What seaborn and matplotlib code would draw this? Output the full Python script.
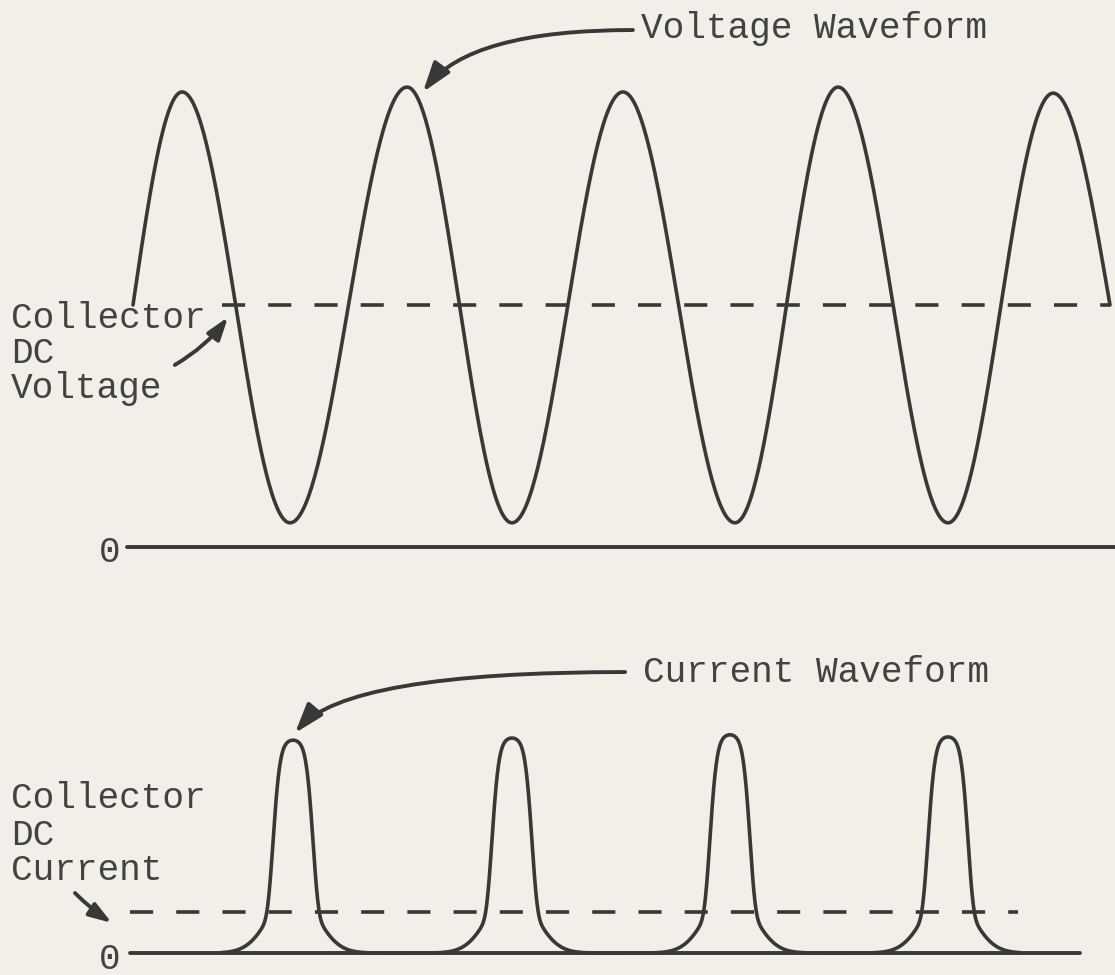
import numpy as np
import pandas as pd
import seaborn as sns
import matplotlib.pyplot as plt

# time is in drive cycles, voltage in units of the collector DC voltage,
# current in units of the pulse peak
v_t = [0.014, 0.239, 0.734, 1.271, 1.752, 2.261, 2.775, 3.248, 3.752, 4.234, 4.495]
v_val = [1.0, 1.88, 0.10, 1.90, 0.10, 1.88, 0.10, 1.90, 0.10, 1.875, 1.0]
v_dc = 1.0
v_dc_span = [0.422, 4.495]
v_zero_span = [-0.014, 4.60]

i_peak_t = [0.748, 1.752, 2.752, 3.752]
i_peak = [0.99, 1.0, 1.015, 1.005]
i_dc = 0.19
i_dc_span = [0.0, 4.073]
i_zero_span = [0.0, 4.358]

bg = '#f1efe8'
ink = '#383838'
txt = '#424242'
font = 'Liberation Mono'

sns.set_theme(style='white')
plt.rcParams['font.family'] = [font, 'DejaVu Sans']


def extremes_curve(ts, vs, n=120):
    # smooth stroke through the peaks/troughs
    xs, ys = [], []
    last = len(ts) - 2
    for k in range(len(ts) - 1):
        s = np.linspace(0, 1, n)
        if k == 0:
            w = np.sin(np.pi / 2 * s)
        elif k == last:
            w = 1 - np.cos(np.pi / 2 * s)
        else:
            w = (1 - np.cos(np.pi * s)) / 2
        xs.append(ts[k] + (ts[k + 1] - ts[k]) * s)
        ys.append(vs[k] + (vs[k + 1] - vs[k]) * w)
    return np.concatenate(xs), np.concatenate(ys)


def pulse(d):
    # steep sided pulse with a flared foot
    d = np.abs(d)
    return 0.7 * np.exp(-(d / 0.0966) ** 4.8) + 0.3 * np.exp(-(d / 0.1468) ** 2)


vx, vy = extremes_curve(v_t, v_val)
volt = pd.DataFrame({'t': vx, 'v': vy})

it = np.linspace(i_peak_t[0] - 0.33, i_peak_t[-1] + 0.33, 2000)
iy = np.zeros_like(it)
for tp, h in zip(i_peak_t, i_peak):
    iy += h * pulse(it - tp)
cur = pd.DataFrame({'t': it, 'i': iy})

fig = plt.figure(figsize=(11.15, 9.75), dpi=100, facecolor=bg)
ax_v = fig.add_axes([0, 1 - 620 / 975, 1, 620 / 975])
ax_i = fig.add_axes([0, 0, 1, 355 / 975])

for ax in (ax_v, ax_i):
    ax.set_facecolor(bg)
    ax.set_xlim(-0.596, 4.518)
    ax.axis('off')
ax_v.set_ylim(-0.3017, 2.260)
ax_i.set_ylim(-0.1023, 1.549)

lw = 2.6
dash = (0, (6.4, 6.4))

# voltage panel
sns.lineplot(data=volt, x='t', y='v', ax=ax_v, color=ink, lw=lw, sort=False, estimator=None)
ax_v.plot(v_dc_span, [v_dc, v_dc], color=ink, lw=lw, ls=dash)
ax_v.plot(v_zero_span, [0, 0], color=ink, lw=2.8)

# current panel
ax_i.plot(i_zero_span, [0, 0], color=ink, lw=2.8)
sns.lineplot(data=cur, x='t', y='i', ax=ax_i, color=ink, lw=lw, sort=False, estimator=None)
ax_i.plot(i_dc_span, [i_dc, i_dc], color=ink, lw=lw, ls=dash)

tkw = dict(fontsize=26, color=txt, family=[font, 'DejaVu Sans'], va='baseline')

ax_v.text(2.344, 2.103, 'Voltage Waveform', ha='left', **tkw)
for s, y in zip(['Collector', 'DC', 'Voltage'], [0.905, 0.760, 0.616]):
    ax_v.text(-0.546, y, s, ha='left', **tkw)
ax_v.text(-0.092, -0.062, '0', ha='center', **tkw)

ax_i.text(2.353, 1.260, 'Current Waveform', ha='left', **tkw)
for s, y in zip(['Collector', 'DC', 'Current'], [0.674, 0.502, 0.340]):
    ax_i.text(-0.546, y, s, ha='left', **tkw)
ax_i.text(-0.092, -0.075, '0', ha='center', **tkw)

head = '-|>,head_length=0.9,head_width=0.3'
akw = dict(color=ink, lw=2.8, shrinkA=0, shrinkB=0)
ax_v.annotate('', xy=(1.344, 1.880), xytext=(2.307, 2.136),
              arrowprops=dict(arrowstyle=head, mutation_scale=20,
                              connectionstyle='angle3,angleA=0,angleB=53', **akw))
ax_v.annotate('', xy=(0.450, 0.950), xytext=(0.206, 0.752),
              arrowprops=dict(arrowstyle=head, mutation_scale=15,
                              connectionstyle='arc3,rad=0.1', **akw))
ax_i.annotate('', xy=(0.757, 1.023), xytext=(2.271, 1.307),
              arrowprops=dict(arrowstyle=head, mutation_scale=20,
                              connectionstyle='angle3,angleA=0,angleB=50', **akw))
ax_i.annotate('', xy=(-0.083, 0.140), xytext=(-0.252, 0.279),
              arrowprops=dict(arrowstyle=head, mutation_scale=15,
                              connectionstyle='arc3,rad=0.05', **akw))

fig.savefig('out.png', dpi=100, facecolor=bg)
